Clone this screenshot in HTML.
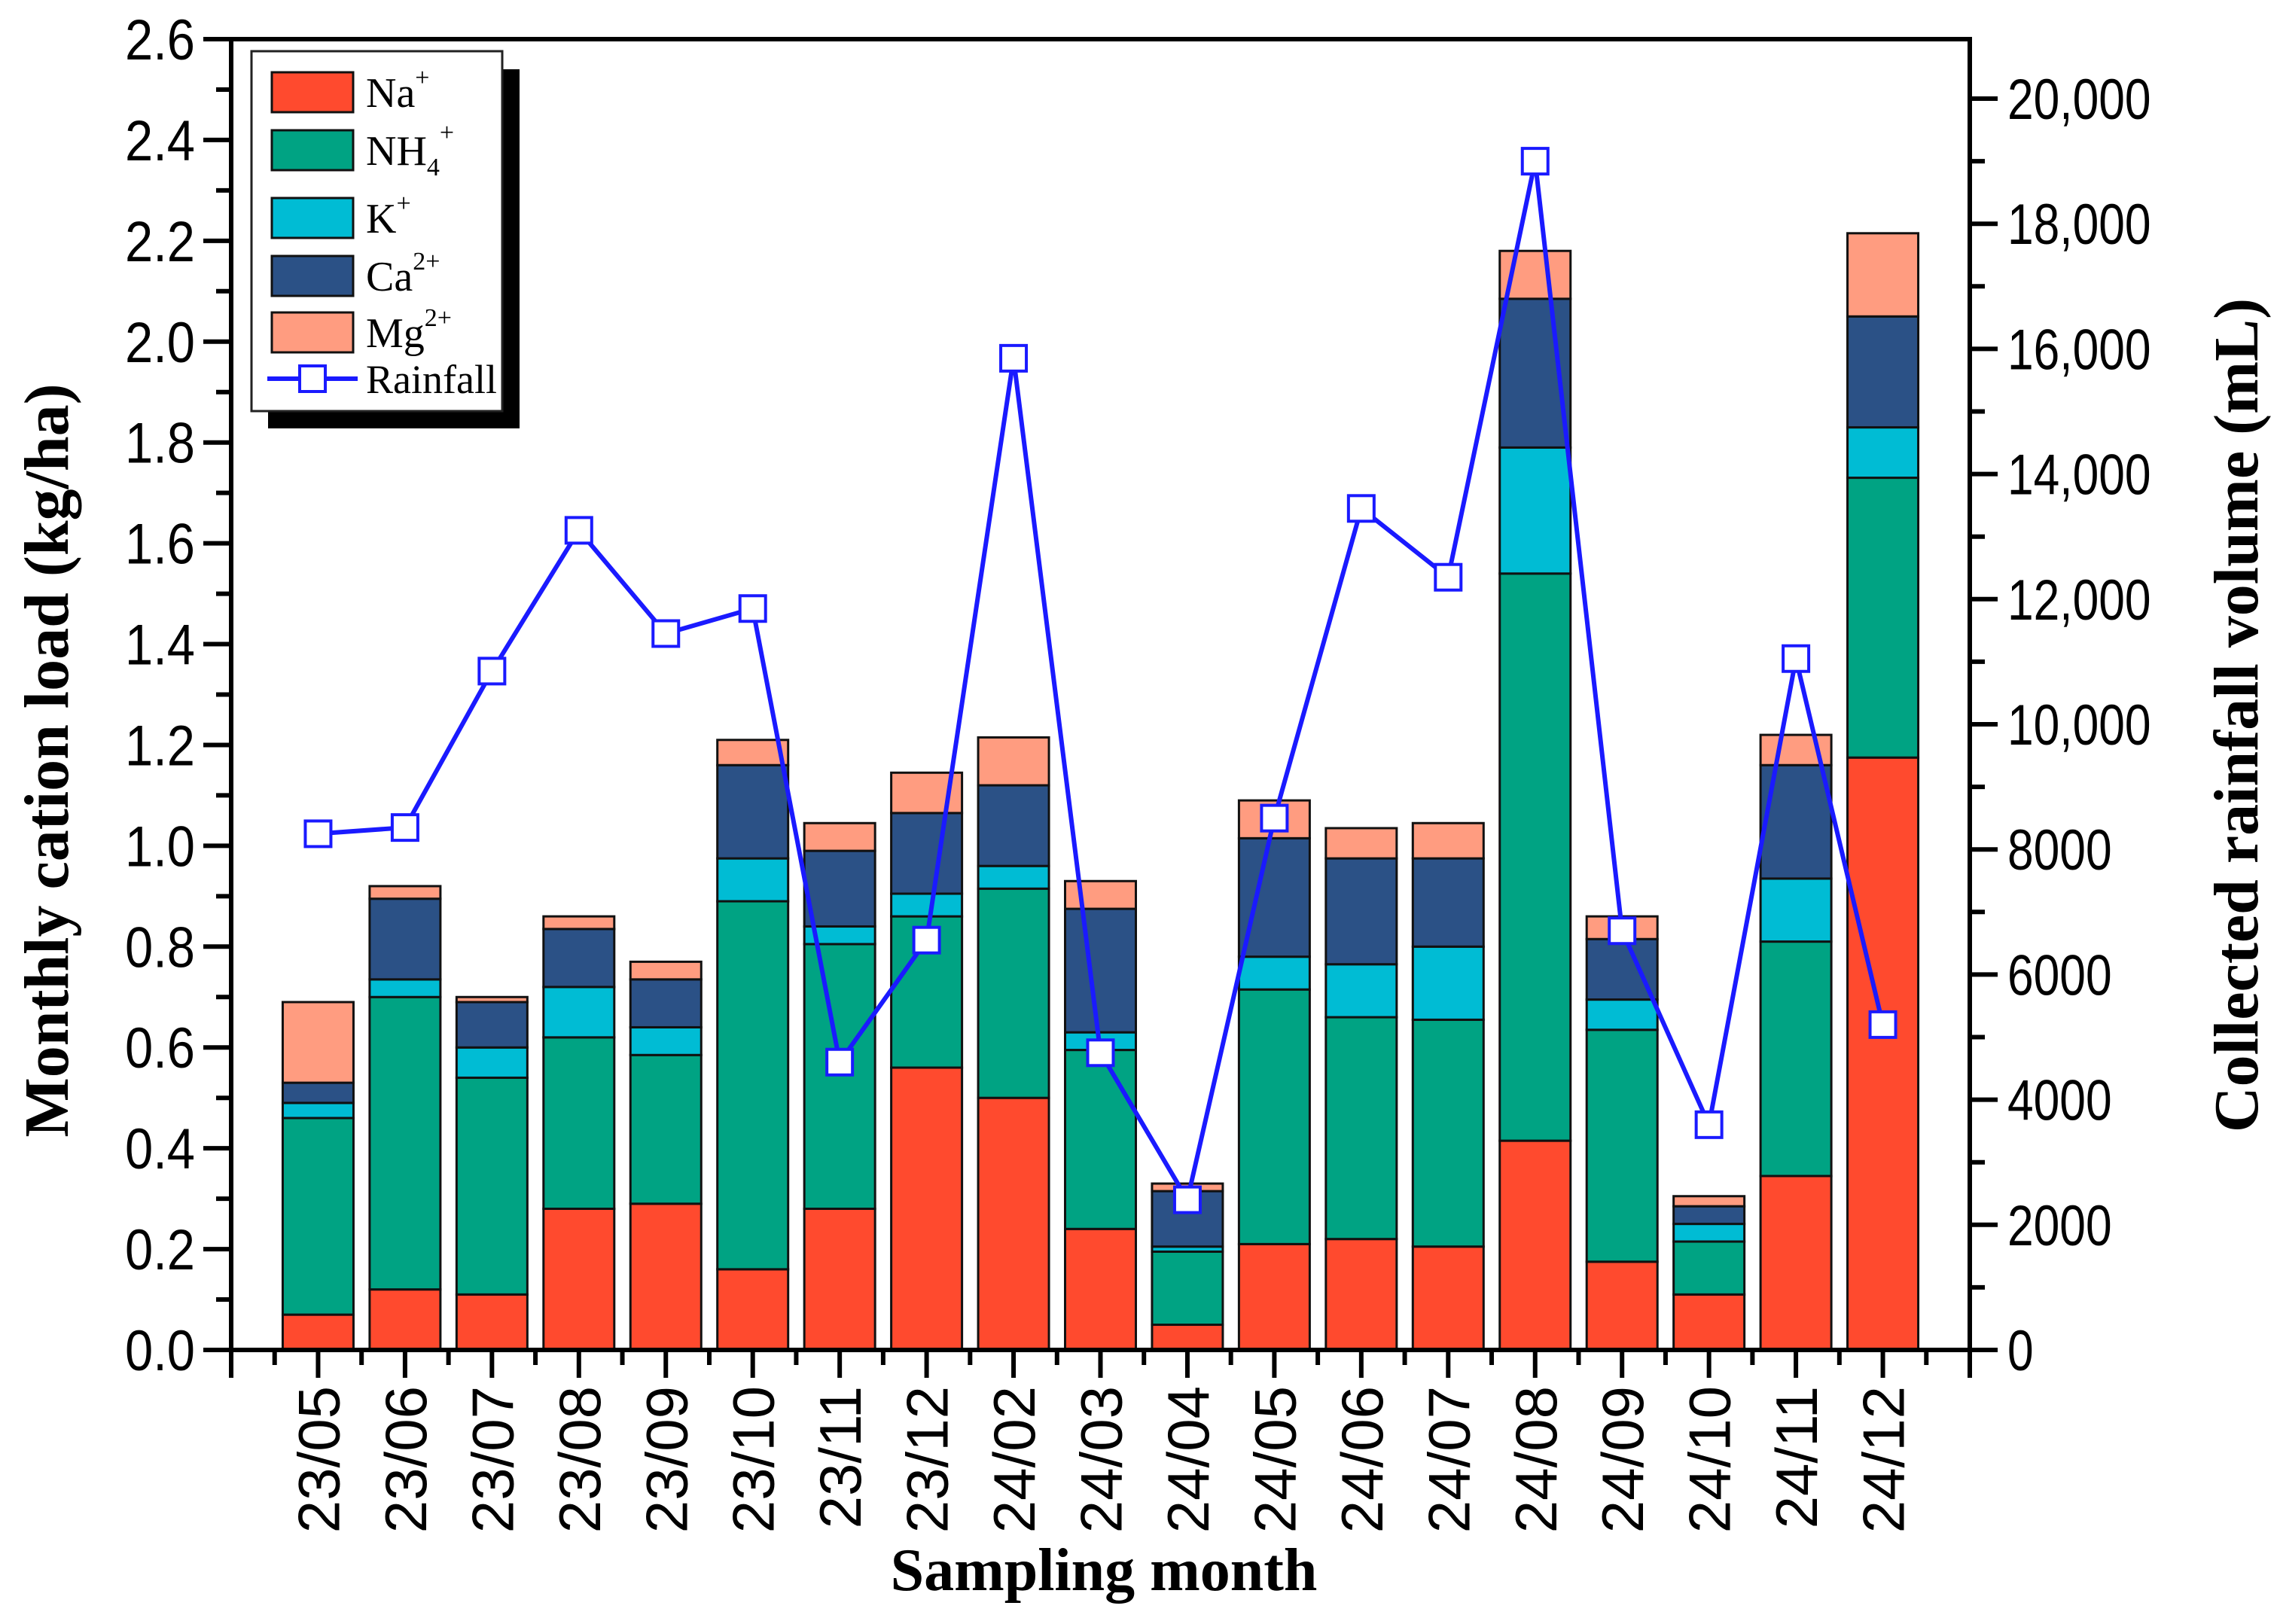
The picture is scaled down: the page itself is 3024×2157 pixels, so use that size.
<!DOCTYPE html>
<html><head><meta charset="utf-8"><style>
html,body{margin:0;padding:0;background:#fff;}
svg{display:block;}
</style></head><body>
<svg id="chart" width="3024" height="2157" viewBox="0 0 3024 2157" xmlns="http://www.w3.org/2000/svg">
<g id="plot"></g>
</svg>
<script>
const categories=["23/05","23/06","23/07","23/08","23/09","23/10","23/11","23/12","24/02","24/03","24/04","24/05","24/06","24/07","24/08","24/09","24/10","24/11","24/12"];
const na=[0.07,0.12,0.11,0.28,0.29,0.16,0.28,0.56,0.50,0.24,0.05,0.21,0.22,0.205,0.415,0.175,0.11,0.345,1.175];
const nh4=[0.39,0.58,0.43,0.34,0.295,0.73,0.525,0.30,0.415,0.355,0.145,0.505,0.44,0.45,1.125,0.46,0.105,0.465,0.555];
const k=[0.03,0.035,0.06,0.10,0.055,0.085,0.035,0.045,0.045,0.035,0.01,0.065,0.105,0.145,0.25,0.06,0.035,0.125,0.10];
const ca=[0.04,0.16,0.09,0.115,0.095,0.185,0.15,0.16,0.16,0.245,0.11,0.235,0.21,0.175,0.295,0.12,0.035,0.225,0.22];
const mg=[0.16,0.025,0.01,0.025,0.035,0.05,0.055,0.08,0.095,0.055,0.015,0.075,0.06,0.07,0.095,0.045,0.02,0.06,0.165];
const rainfall=[8250,8350,10850,13100,11450,11850,4600,6550,15850,4750,2400,8500,13450,12350,19000,6700,3600,11050,5200];
const leftTicks=["0.0","0.2","0.4","0.6","0.8","1.0","1.2","1.4","1.6","1.8","2.0","2.2","2.4","2.6"];
const rightTicks=["0","2000","4000","6000","8000","10,000","12,000","14,000","16,000","18,000","20,000"];

const NS="http://www.w3.org/2000/svg";
const g=document.getElementById('plot');
const X0=307,X1=2616,Y0=1793,YT=52;
const slot=(X1-X0)/(categories.length+1);
const xPos=i=>X0+(i+1)*slot;
const yL=v=>Y0-v*(Y0-YT)/2.6;
const yR=v=>Y0-v*(Y0-131)/20000;
function mk(tag,attrs,parent){const e=document.createElementNS(NS,tag);for(const a in attrs)e.setAttribute(a,attrs[a]);(parent||g).appendChild(e);return e;}

const series=[na,nh4,k,ca,mg];
const seriesNames=["na","nh4","k","ca","mg"];
const colors=["#FF4A2E","#00A383","#00BCD4","#2B5186","#FF9C80"];
const bw=94;
categories.forEach((c,i)=>{
  let base=0;
  series.forEach((s,j)=>{
    const top=base+s[i];
    const r=mk('rect',{x:xPos(i)-bw/2,y:yL(top),width:bw,height:yL(base)-yL(top),fill:colors[j],stroke:'#111','stroke-width':3});
    
    
    base=top;
  });
});

const frame=mk('path',{d:`M${X0},${YT} H${X1} V${Y0} H${X0} Z`,fill:'none',stroke:'#000','stroke-width':6});



leftTicks.forEach((t,i)=>{
  const v=parseFloat(t);const y=yL(v);
  mk('line',{x1:X0-37,x2:X0,y1:y,y2:y,stroke:'#000','stroke-width':6});
  if(i<leftTicks.length-1){const ym=yL(v+0.1);mk('line',{x1:X0-20,x2:X0,y1:ym,y2:ym,stroke:'#000','stroke-width':6});}
  const tx=mk('text',{x:0,y:0,'text-anchor':'end','font-family':'Liberation Sans, Arial, sans-serif','font-size':76,fill:'#000',transform:`translate(${X0-48},${y+27}) scale(0.88,1)`});
  tx.textContent=t;
  
  
});
rightTicks.forEach((t,i)=>{
  const v=parseFloat(t.replace(',',''));const y=yR(v);
  mk('line',{x1:X1,x2:X1+37,y1:y,y2:y,stroke:'#000','stroke-width':6});
  if(i<rightTicks.length-1){const ym=yR(v+1000);mk('line',{x1:X1,x2:X1+20,y1:ym,y2:ym,stroke:'#000','stroke-width':6});}
  const tx=mk('text',{x:0,y:0,'font-family':'Liberation Sans, Arial, sans-serif','font-size':76,fill:'#000',transform:`translate(${X1+50},${y+27}) scale(0.82,1)`});
  tx.textContent=t;
  
  
});
mk('line',{x1:X0,x2:X0,y1:Y0,y2:Y0+37,stroke:'#000','stroke-width':6});
mk('line',{x1:X1,x2:X1,y1:Y0,y2:Y0+37,stroke:'#000','stroke-width':6});
categories.forEach((c,i)=>{
  const x=xPos(i);
  mk('line',{x1:x,x2:x,y1:Y0,y2:Y0+37,stroke:'#000','stroke-width':6});
  mk('line',{x1:x-slot/2,x2:x-slot/2,y1:Y0,y2:Y0+20,stroke:'#000','stroke-width':6});
  const tx=mk('text',{x:0,y:0,'text-anchor':'end','font-family':'Liberation Sans, Arial, sans-serif','font-size':78,fill:'#000',transform:`translate(${x+28},${Y0+48}) rotate(-90)`});
  tx.textContent=c;
  
  
});
mk('line',{x1:X1-slot/2,x2:X1-slot/2,y1:Y0,y2:Y0+20,stroke:'#000','stroke-width':6});

const pts=rainfall.map((v,i)=>xPos(i)+','+yR(v)).join(' ');
const pl=mk('polyline',{points:pts,fill:'none',stroke:'#1a1aff','stroke-width':6});


rainfall.forEach((v,i)=>{
  const m=mk('rect',{x:xPos(i)-17,y:yR(v)-17,width:34,height:34,fill:'#fff',stroke:'#1a1aff','stroke-width':4});
  
  
});

let t=mk('text',{x:0,y:0,'text-anchor':'middle','font-family':'Liberation Serif, Times New Roman, serif','font-weight':'bold','font-size':84,fill:'#000',transform:'translate(90,1010) rotate(-90)'});
t.textContent='Monthly cation load (kg/ha)';


t=mk('text',{x:0,y:0,'text-anchor':'middle','font-family':'Liberation Serif, Times New Roman, serif','font-weight':'bold','font-size':84,fill:'#000',transform:'translate(2998,950) rotate(-90)'});
t.textContent='Collected rainfall volume (mL)';


t=mk('text',{x:1466,y:2112,'text-anchor':'middle','font-family':'Liberation Serif, Times New Roman, serif','font-weight':'bold','font-size':80,fill:'#000'});
t.textContent='Sampling month';



const lg=mk('g',{});


mk('rect',{x:356,y:92,width:334,height:477,fill:'#000'},lg);
mk('rect',{x:334,y:68,width:333,height:478,fill:'#fff',stroke:'#222','stroke-width':3},lg);
const labels=[['Na','+',''],['NH','+','4'],['K','+',''],['Ca','2+',''],['Mg','2+','']];
const ly=[96,173,263,340,415];
labels.forEach((l,j)=>{
  const r=mk('rect',{x:361,y:ly[j],width:108,height:53,fill:colors[j],stroke:'#111','stroke-width':3},lg);
  
  
  const tx=mk('text',{x:486,y:ly[j]+46,'font-family':'Liberation Serif, Times New Roman, serif','font-size':56,fill:'#000'},lg);
  tx.textContent=l[0];
  if(l[2]){const s=mk('tspan',{'font-size':34,dy:14},tx);s.textContent=l[2];const s2=mk('tspan',{'font-size':34,dy:-46},tx);s2.textContent=l[1];}
  else{const s=mk('tspan',{'font-size':34,dy:-28},tx);s.textContent=l[1];}
  
  
});
mk('line',{x1:355,x2:475,y1:503,y2:503,stroke:'#1a1aff','stroke-width':6},lg);
mk('rect',{x:398,y:486,width:34,height:34,fill:'#fff',stroke:'#1a1aff','stroke-width':4},lg);
const rt=mk('text',{x:486,y:522,'font-family':'Liberation Serif, Times New Roman, serif','font-size':54,fill:'#000'},lg);
rt.textContent='Rainfall';


</script>
</body></html>
